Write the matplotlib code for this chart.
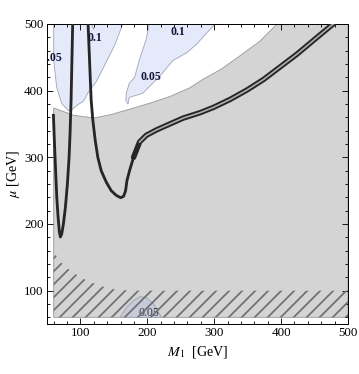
import numpy as np
import matplotlib
matplotlib.use("Agg")
import matplotlib.pyplot as plt
from matplotlib.ticker import MultipleLocator

plt.rcParams['font.family'] = ['Liberation Serif', 'DejaVu Serif']
plt.rcParams['mathtext.fontset'] = 'stix'
plt.rcParams['hatch.linewidth'] = 1.6

# excluded (gray) region: upper boundary
gray_m1 = [60, 90, 120, 145, 173, 203, 233, 263, 283, 310, 334, 368, 394]
gray_mu = [374, 363, 359, 364, 372, 381, 391, 404, 417, 432, 449, 474, 500]

# hatched region: upper boundary
hatch_m1 = [60, 64, 70, 80, 94, 110, 130, 150, 175, 500]
hatch_mu = [163, 152, 143, 134, 124, 115, 107, 102, 100, 100]

# light blue region, left (0.05 - 0.1)
blue1_m1 = [60, 60, 64.5, 72, 82, 87, 96, 104.5, 112, 124, 131, 144.5, 152, 162, 163,
            122, 119.5, 117, 60]
blue1_mu = [500, 446, 405, 381, 370, 371, 379, 384, 398, 414, 428, 455, 470, 497, 500,
            500, 492, 500, 500]

# light blue region, middle
blue2_m1 = [203, 198, 188, 181, 173, 168.5, 168, 171, 173, 193, 218, 238, 259, 274, 289, 299, 301]
blue2_mu = [500, 476, 446, 420, 411, 396, 385, 380, 390, 396, 421, 445, 457, 470, 487, 497, 500]

# small blob at the bottom
blob_m1 = [159.5, 169, 179, 189, 199, 209, 217, 221]
blob_mu = [60, 75, 85, 91, 89.5, 80.5, 67, 60]

# black contour, left branch
curveA_m1 = [59.6, 60.6, 61.6, 63.1, 64.6, 66.6, 68.5, 70.0, 72.0, 74.5, 77.5, 80.5,
             83.0, 84.5, 86.0, 88.4]
curveA_mu = [363, 336, 310, 275, 240, 210, 188, 180.5, 185, 200, 225, 260, 300, 336, 386, 500]

# black contour, right branch (single part)
curveB_m1 = [111.4, 116.0, 118.5, 122.0, 126.0, 131.0, 138.5, 146.0, 153.5, 160.0,
             164.5, 167.5, 169.5, 173.4, 179.4]
curveB_mu = [500, 386, 356, 326, 300, 280, 263, 250, 243, 239.5, 241.5, 250, 265, 280, 300]

# black contour, right branch (double part)
curveC_m1 = [179.4, 188.4, 198.4, 213.4, 238, 254, 279, 299, 324, 349,
             374, 399, 424, 449, 479]
curveC_mu = [300, 323, 333, 341, 352, 359, 367, 375, 387, 401, 417, 436,
             455, 476, 501]

# contour labels
lab_text = ['0.1', '0.05', '0.1', '0.05']
lab_m1 = [121, 57, 245, 206]
lab_mu = [479, 449, 488, 420]

fig = plt.figure(figsize=(360 / 78, 374 / 78), dpi=78)
ax = fig.add_axes([47 / 360, 50 / 374, 301 / 360, 300 / 374])

gx = [60] + gray_m1 + [500, 500]
gy = [60] + gray_mu + [500, 60]
ax.fill(gx, gy, facecolor='#d4d4d4', edgecolor='#9a9a9a', lw=0.8, zorder=1)

ax.fill(blue1_m1, blue1_mu, facecolor='#e5eafb', edgecolor='#a3a6b8', lw=0.8, zorder=1)
ax.fill(blue2_m1, blue2_mu, facecolor='#e5eafb', edgecolor='#a3a6b8', lw=0.8, zorder=1)
ax.fill(blob_m1, blob_mu, facecolor='#c6cad9', edgecolor='#a0a3b3', lw=0.8, zorder=2)

ax.fill_between(hatch_m1, 60, hatch_mu, facecolor='none', edgecolor='#6e6e6e',
                hatch='//', lw=0, zorder=3)

ax.plot(curveA_m1, curveA_mu, color='#262626', lw=2.6, zorder=4)
ax.plot(curveB_m1, curveB_mu, color='#262626', lw=2.6, zorder=4)
ax.plot(curveC_m1, curveC_mu, color='#262626', lw=5.0, zorder=4,
        solid_capstyle='round')
ax.plot(curveC_m1[1:], curveC_mu[1:], color='#b0b0b0', lw=1.5, zorder=5)

for t, x, y in zip(lab_text, lab_m1, lab_mu):
    ax.text(x, y, t, fontsize=11, fontweight='bold', color='#14143c',
            ha='center', va='center', zorder=6, clip_on=True)
ax.text(203, 67, '0.05', fontsize=11, color='#3c3c4c', ha='center', va='center',
        zorder=2, clip_on=True)

ax.set_xlim(50, 500)
ax.set_ylim(50, 500)
ax.xaxis.set_major_locator(MultipleLocator(100))
ax.yaxis.set_major_locator(MultipleLocator(100))
ax.xaxis.set_minor_locator(MultipleLocator(20))
ax.yaxis.set_minor_locator(MultipleLocator(20))
ax.tick_params(which='both', direction='in', top=True, right=True, width=0.8,
               labelsize=12, pad=3)
ax.tick_params(which='major', length=5.5)
ax.tick_params(which='minor', length=2.8)
for s in ax.spines.values():
    s.set_linewidth(0.9)

ax.set_xlabel('$M_1$  [GeV]', fontsize=13, labelpad=4)
ax.set_ylabel(r'$\mu$ [GeV]', fontsize=13, labelpad=2)

fig.savefig('out.png', dpi=78)
